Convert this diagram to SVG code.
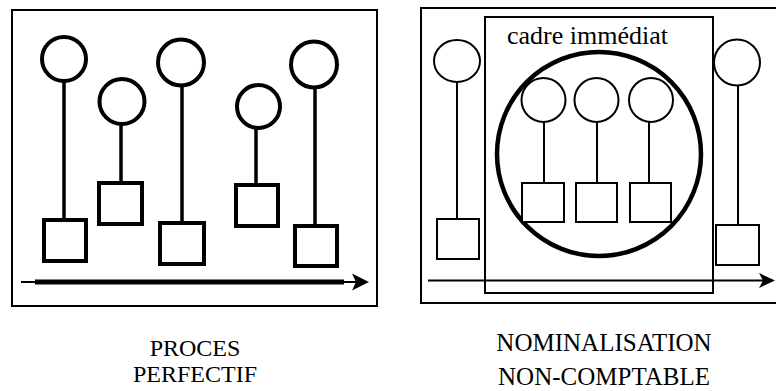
<svg xmlns="http://www.w3.org/2000/svg" width="776" height="391" viewBox="0 0 776 391">
<style>
  .frame{fill:none;stroke:#000;stroke-width:2}
  .thick{fill:#fff;stroke:#000;stroke-width:4}
  .tline{stroke:#000;stroke-width:3.5;fill:none}
  .thin{fill:#fff;stroke:#000;stroke-width:2}
  .line{stroke:#000;stroke-width:2;fill:none}
  .lbl{font-family:"Liberation Serif","Times New Roman",serif;font-size:24px;fill:#000}
  .cad{font-family:"Liberation Serif","Times New Roman",serif;font-size:26px;fill:#000}
</style>
<rect width="776" height="391" fill="#fff"/>
<g id="left-panel">
  <rect class="frame" x="12" y="10" width="365" height="296"/>
</g>
<g id="right-panel">
  <rect class="frame" x="421" y="8" width="400" height="295"/>
</g>
<g id="connectors">
  <line class="tline" x1="64" y1="82" x2="64" y2="220"/>
  <line class="tline" x1="121" y1="124" x2="121" y2="183"/>
  <line class="tline" x1="182" y1="86" x2="182" y2="223"/>
  <line class="tline" x1="256" y1="128" x2="256" y2="185"/>
  <line class="tline" x1="315" y1="88" x2="315" y2="226"/>
  <line class="line" x1="21" y1="282" x2="356" y2="282"/>
  <line x1="35" y1="282" x2="344" y2="282" stroke="#000" stroke-width="5"/>
  <path d="M369,282 L352,273.5 L356,282 L352,290.5 Z" fill="#000"/>
  <line class="line" x1="544" y1="122" x2="544" y2="183"/>
  <line class="line" x1="597" y1="122" x2="597" y2="183"/>
  <line class="line" x1="649" y1="122" x2="649" y2="183"/>
  <line class="line" x1="457" y1="82" x2="457" y2="219"/>
  <line class="line" x1="738" y1="85" x2="738" y2="225"/>
  <line class="line" x1="428" y1="280.5" x2="764" y2="280.5"/>
  <path d="M775,280.5 L759,273 L763,280.5 L759,288 Z" fill="#000"/>
</g>
<g id="p1"><circle class="thick" cx="64" cy="59" r="22"/><rect class="thick" x="44" y="220" width="42" height="41"/></g>
<g id="p2"><circle class="thick" cx="122" cy="101.5" r="22.5"/><rect class="thick" x="99" y="183" width="43" height="41"/></g>
<g id="p3"><circle class="thick" cx="181" cy="62.5" r="23"/><rect class="thick" x="160" y="223" width="44" height="41"/></g>
<g id="p4"><circle class="thick" cx="258.5" cy="106.5" r="21.5"/><rect class="thick" x="236" y="185" width="42" height="41"/></g>
<g id="p5"><circle class="thick" cx="314" cy="64.5" r="23"/><rect class="thick" x="295" y="226" width="42" height="40"/></g>
<g id="cadre">
  <rect class="frame" x="485" y="17" width="228" height="276"/>
  <text class="cad" x="507" y="44">cadre immédiat</text>
</g>
<g id="big-circle"><circle cx="599" cy="154" r="102" fill="none" stroke="#000" stroke-width="4.5"/></g>
<g id="n1"><circle class="thin" cx="543.5" cy="100" r="22"/><rect class="thin" x="522" y="183" width="42" height="39"/></g>
<g id="n2"><circle class="thin" cx="596.5" cy="100" r="22"/><rect class="thin" x="576" y="183" width="41" height="39"/></g>
<g id="n3"><circle class="thin" cx="651" cy="100" r="22"/><rect class="thin" x="630" y="183" width="41" height="39"/></g>
<g id="n-left"><ellipse class="thin" cx="457" cy="61" rx="23" ry="21"/><rect class="thin" x="437" y="219" width="42" height="40"/></g>
<g id="n-right"><circle class="thin" cx="737" cy="62.5" r="23"/><rect class="thin" x="716" y="225" width="43" height="40"/></g>
<g id="labels">
  <text class="lbl" x="195" y="356" text-anchor="middle">PROCES</text>
  <text class="lbl" x="195" y="382" text-anchor="middle">PERFECTIF</text>
  <text class="lbl" x="604" y="351" text-anchor="middle" style="font-size:25px">NOMINALISATION</text>
  <text class="lbl" x="604" y="385" text-anchor="middle" style="font-size:25px">NON-COMPTABLE</text>
</g>
</svg>
